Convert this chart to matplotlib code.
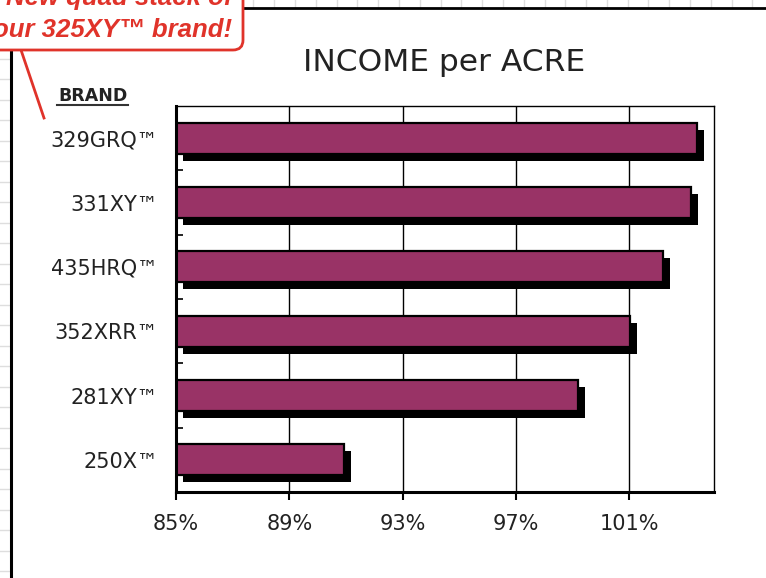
import numpy as np
import matplotlib
matplotlib.use("Agg")
import matplotlib.pyplot as plt
import matplotlib.patheffects as pe
from matplotlib.patches import FancyBboxPatch

# ---- data ----
brands = ["329GRQ™", "331XY™", "435HRQ™", "352XRR™", "281XY™", "250X™"]
income_pct = [103.4, 103.2, 102.2, 101.05, 99.2, 90.95]
BASE = 85
xticks = [85, 89, 93, 97, 101]
xticklabels = ["85%", "89%", "93%", "97%", "101%"]
title = "INCOME per ACRE"
axis_label = "BRAND"
callout_lines = ["New quad stack of", "our 325XY™ brand!"]

W, H = 766, 578
fig = plt.figure(figsize=(W / 100, H / 100), dpi=100)
fig.patch.set_facecolor("white")

# ---- background (spreadsheet look), in pixel coordinates ----
bg = fig.add_axes([0, 0, 1, 1], zorder=0)
bg.set_xlim(0, W)
bg.set_ylim(H, 0)
bg.axis("off")
grid_c = "#dedede"
# top strip vertical cell lines
x = 253.3
while x < W:
    bg.plot([x, x], [0, 7], color=grid_c, lw=1)
    x += 20.8
# left strip horizontal cell lines
y = 325.0
while y > 0:
    bg.plot([0, 9], [y, y], color=grid_c, lw=1)
    y -= 20.5
y = 325.0 + 20.5
while y < H:
    bg.plot([0, 9], [y, y], color=grid_c, lw=1)
    y += 20.5
# black frame lines of the chart object
bg.plot([243, W], [7.5, 7.5], color="black", lw=2)
bg.plot([10.5, 10.5], [50, H], color="black", lw=2.2)

# callout
red = "#e0332a"
box = FancyBboxPatch((-120, -60), 363, 110, boxstyle="round,pad=0,rounding_size=10",
                     facecolor="white", edgecolor=red, lw=2, zorder=5)
bg.add_patch(box)
bg.plot([21, 44], [50, 118], color=red, lw=2, zorder=4)
bg.text(232, 5, callout_lines[0], color=red, fontsize=18.5, fontweight="bold",
        fontstyle="italic", family="Liberation Sans", ha="right", va="baseline", zorder=6)
bg.text(232, 37, callout_lines[1], color=red, fontsize=18.5, fontweight="bold",
        fontstyle="italic", family="Liberation Sans", ha="right", va="baseline", zorder=6)

# BRAND label (underlined)
bg.text(92.5, 101, axis_label, color="#222222", fontsize=12.5, fontweight="bold",
        family="DejaVu Sans", ha="center", va="baseline")
bg.plot([57, 128], [104.5, 104.5], color="#333333", lw=1.5)

# title
bg.text(444, 71, title, color="#222222", fontsize=22.5, family="DejaVu Sans",
        ha="center", va="baseline")

# ---- chart ----
l, r, t, b = 176, 714, 106, 492
ax = fig.add_axes([l / W, 1 - b / H, (r - l) / W, (b - t) / H], zorder=2)
ax.set_facecolor("white")

ypos = np.arange(len(brands))
widths = [v - BASE for v in income_pct]
bars = ax.barh(ypos, widths, left=BASE, height=0.48, color="#993366",
               edgecolor="black", linewidth=1.6, zorder=3)
for bar in bars:
    bar.set_path_effects([pe.SimplePatchShadow(offset=(5, -5), shadow_rgbFace="black", alpha=1.0),
                          pe.Normal()])

ax.set_xlim(BASE, 104)
ax.set_ylim(len(brands) - 0.5, -0.5)
ax.set_xticks(xticks)
ax.set_xticklabels(xticklabels)
ax.set_yticks(ypos)
ax.set_yticklabels(brands)
ax.set_yticks(np.arange(len(brands) - 1) + 0.5, minor=True)

ax.set_axisbelow(True)
ax.xaxis.grid(True, color="black", lw=1.0)

for lab in ax.get_xticklabels() + ax.get_yticklabels():
    lab.set_family("DejaVu Sans")
    lab.set_fontsize(15)
    lab.set_color("#222222")

ax.tick_params(axis="x", direction="out", length=6, width=1.5, pad=10, colors="black",
               labelcolor="#222222")
ax.tick_params(axis="y", which="major", length=0, pad=13, labelcolor="#222222")
ax.tick_params(axis="y", which="minor", direction="in", length=5, width=1.2, colors="black")

ax.spines["left"].set_linewidth(2.2)
ax.spines["bottom"].set_linewidth(2.2)
ax.spines["top"].set_linewidth(1.0)
ax.spines["right"].set_linewidth(1.0)
for s in ax.spines.values():
    s.set_color("black")
    s.set_zorder(4)

fig.savefig("out.png", dpi=100)
